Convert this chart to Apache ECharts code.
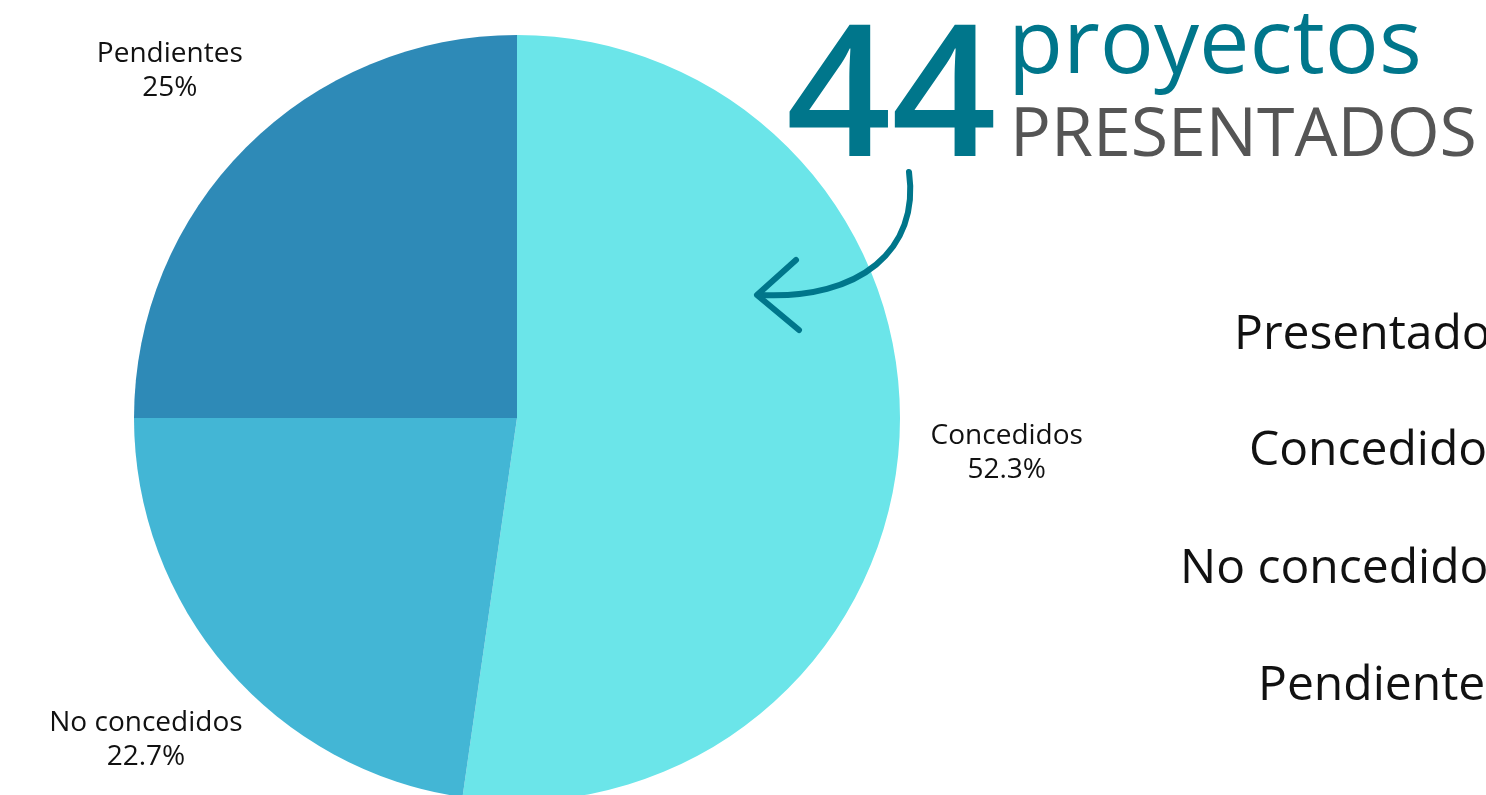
<!DOCTYPE html>
<html>
<head>
<meta charset="utf-8">
<title>Proyectos presentados</title>
<script src="https://cdn.jsdelivr.net/npm/echarts@6/dist/echarts.min.js"></script>
<style>
    html, body { margin: 0; padding: 0; background: #ffffff; }
    #chart { width: 1486px; height: 795px; }
</style>
</head>
<body>
<div id="chart"></div>
<script>

const categories = ['Concedidos', 'No concedidos', 'Pendientes'];
const counts = [23, 10, 11];
const total = 44;
const summaryLabels = ['Presentados', 'Concedidos', 'No concedidos', 'Pendientes'];

const sliceColors = ['#6be5e9', '#43b6d5', '#2e8ab7'];
const teal = '#00768b';
const font = "'Open Sans', 'Noto Sans', sans-serif";

const chart = echarts.init(document.getElementById('chart'));

const pieData = categories.map((name, i) => ({
    name,
    value: counts[i],
    itemStyle: { color: sliceColors[i] }
}));

const summaryLeft = [1234, 1249, 1180, 1258];
const summaryTop = [311, 427, 545, 662];

const option = {
    animation: false,
    series: [
        {
            type: 'pie',
            center: [517, 418],
            radius: [0, 383],
            startAngle: 90,
            clockwise: true,
            silent: true,
            label: { show: false },
            labelLine: { show: false },
            data: pieData
        },
        {
            // transparent ring, only used to place the labels at the slice mid-angle
            type: 'pie',
            center: [517, 418],
            radius: [440, 536],
            startAngle: 90,
            clockwise: true,
            silent: true,
            itemStyle: { color: 'rgba(0,0,0,0)' },
            label: {
                show: true,
                position: 'inside',
                rotate: 0,
                color: '#111111',
                fontFamily: font,
                fontSize: 28,
                lineHeight: 34,
                align: 'center',
                formatter: p => `${p.name}\n${Math.round(p.value / total * 1000) / 10}%`
            },
            labelLine: { show: false },
            data: categories.map((name, i) => ({ name, value: counts[i] }))
        }
    ],
    graphic: [
        {
            type: 'text',
            left: 786,
            top: 12,
            z: 100,
            style: {
                text: String(total),
                fill: teal,
                font: `600 184px ${font}`
            }
        },
        {
            type: 'text',
            left: 1008,
            top: 2,
            z: 100,
            style: {
                text: 'proyectos',
                fill: teal,
                font: `500 90px ${font}`
            }
        },
        {
            type: 'text',
            left: 1010,
            top: 103,
            z: 100,
            style: {
                text: 'PRESENTADOS',
                fill: '#555555',
                font: `500 68px ${font}`
            }
        },
        {
            type: 'bezierCurve',
            z: 100,
            shape: {
                x1: 909, y1: 172,
                cpx1: 920, cpy1: 250,
                cpx2: 860, cpy2: 300,
                x2: 760, y2: 295
            },
            style: { stroke: teal, lineWidth: 6, fill: null, lineCap: 'round' }
        },
        {
            type: 'polyline',
            z: 100,
            shape: {
                points: [[796, 260], [757, 295], [799, 330]]
            },
            style: { stroke: teal, lineWidth: 6, fill: null, lineCap: 'round', lineJoin: 'round' }
        },
        ...summaryLabels.map((text, i) => ({
            type: 'text',
            left: summaryLeft[i],
            top: summaryTop[i],
            z: 100,
            style: {
                text,
                fill: '#111111',
                font: `400 48px ${font}`
            }
        }))
    ]
};

option && chart.setOption(option);

</script>
</body>
</html>
